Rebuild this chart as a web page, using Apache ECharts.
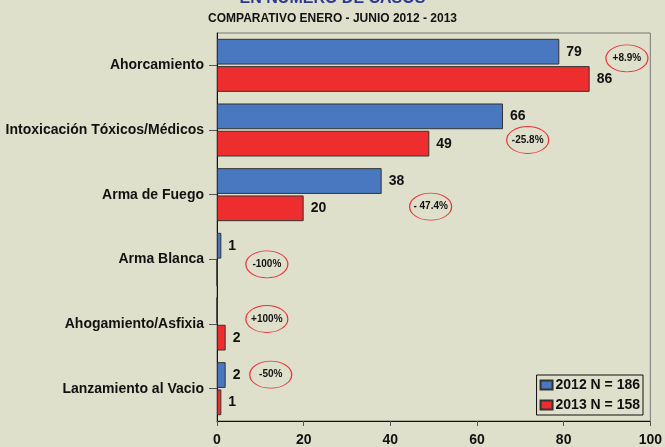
<!DOCTYPE html>
<html>
<head>
<meta charset="utf-8">
<script src="https://cdn.jsdelivr.net/npm/echarts@6/dist/echarts.min.js"></script>
<style>
  html, body { margin: 0; padding: 0; background: #dfe0cb; }
  #main { width: 665px; height: 447px; }
</style>
</head>
<body>
<div id="main"></div>
<script>
// datos
var categories = ['Ahorcamiento', 'Intoxicación Tóxicos/Médicos', 'Arma de Fuego', 'Arma Blanca', 'Ahogamiento/Asfixia', 'Lanzamiento al Vacio'];
var casos2012 = [79, 66, 38, 1, 0, 2];
var casos2013 = [86, 49, 20, 0, 2, 1];
var seriesNames = ['2012 N = 186', '2013 N = 158'];
// variaciones (texto, posición x en el eje, desplazamiento vertical)
var variaciones = ['+8.9%', '-25.8%', '- 47.4%', '-100%', '+100%', '-50%'];
var varX = [94.6, 71.7, 49.3, 11.5, 11.5, 12.4];
var varDy = [-7, 10, 12, 5, -5, -14];

var font = 'Liberation Sans, Arial, sans-serif';

var marks = variaciones.map(function (t, i) {
  return {
    coord: [varX[i], categories[i]],
    value: t,
    symbolOffset: [0, varDy[i]]
  };
});

var valueLabel = {
  show: true,
  position: 'right',
  distance: 7,
  color: '#111',
  fontWeight: 'bold',
  fontSize: 14,
  fontFamily: font,
  formatter: function (p) { return p.value ? p.value : ''; }
};

var option = {
  backgroundColor: '#dfe0cb',
  animation: false,
  title: {
    text: 'EN NÚMERO DE CASOS',
    subtext: 'COMPARATIVO ENERO - JUNIO 2012 - 2013',
    left: 'center',
    top: -14,
    itemGap: 6,
    textStyle: { color: '#2b3990', fontSize: 16, fontWeight: 'bold', fontFamily: font, lineHeight: 16 },
    subtextStyle: { color: '#111', fontSize: 12, fontWeight: 'bold', fontFamily: font }
  },
  legend: {
    orient: 'vertical',
    right: 22,
    bottom: 32,
    icon: 'rect',
    itemWidth: 12,
    itemHeight: 9,
    itemGap: 6,
    padding: [3, 3, 3, 3],
    borderColor: '#111',
    borderWidth: 1,
    backgroundColor: '#dfe0cb',
    textStyle: { color: '#111', fontSize: 14, fontWeight: 'bold', fontFamily: font, padding: [0, 0, 0, -2] },
    data: seriesNames
  },
  grid: {
    left: 217,
    right: 11,
    top: 33,
    bottom: 23,
    show: true,
    borderColor: '#777',
    borderWidth: 1,
    backgroundColor: 'transparent'
  },
  xAxis: {
    type: 'value',
    min: 0,
    max: 100,
    interval: 20,
    splitLine: { show: false },
    axisLine: { show: true, lineStyle: { color: '#111' } },
    axisTick: { show: true, length: 5, lineStyle: { color: '#555' } },
    axisLabel: { color: '#111', fontSize: 14, fontWeight: 'bold', fontFamily: font, margin: 12 }
  },
  yAxis: {
    type: 'category',
    inverse: true,
    data: categories,
    axisLine: { show: true, lineStyle: { color: '#111' } },
    axisTick: { show: true, length: 8, alignWithLabel: true, lineStyle: { color: '#555' } },
    axisLabel: { color: '#111', fontSize: 14, fontWeight: 'bold', fontFamily: font, margin: 13, padding: [3, 0, 0, 0] }
  },
  series: [
    {
      name: seriesNames[0],
      type: 'bar',
      data: casos2012,
      barGap: '6%',
      barCategoryGap: '18%',
      itemStyle: { color: '#4a78c0', borderColor: '#333', borderWidth: 1 },
      label: valueLabel
    },
    {
      name: seriesNames[1],
      type: 'bar',
      data: casos2013,
      barGap: '6%',
      barCategoryGap: '18%',
      itemStyle: { color: '#ee2e2e', borderColor: '#333', borderWidth: 1 },
      label: valueLabel
    },
    {
      name: 'variacion',
      type: 'scatter',
      data: [],
      markPoint: {
        symbol: 'circle',
        symbolSize: [42, 27],
        itemStyle: { color: 'rgba(0,0,0,0)', borderColor: '#e8343a', borderWidth: 1 },
        label: {
          show: true,
          position: 'inside',
          color: '#111',
          fontSize: 10,
          fontWeight: 'bold',
          fontFamily: font,
          formatter: function (p) { return p.value; }
        },
        data: marks
      }
    }
  ]
};

var myChart = echarts.init(document.getElementById('main'));
myChart.setOption(option);
</script>
</body>
</html>
